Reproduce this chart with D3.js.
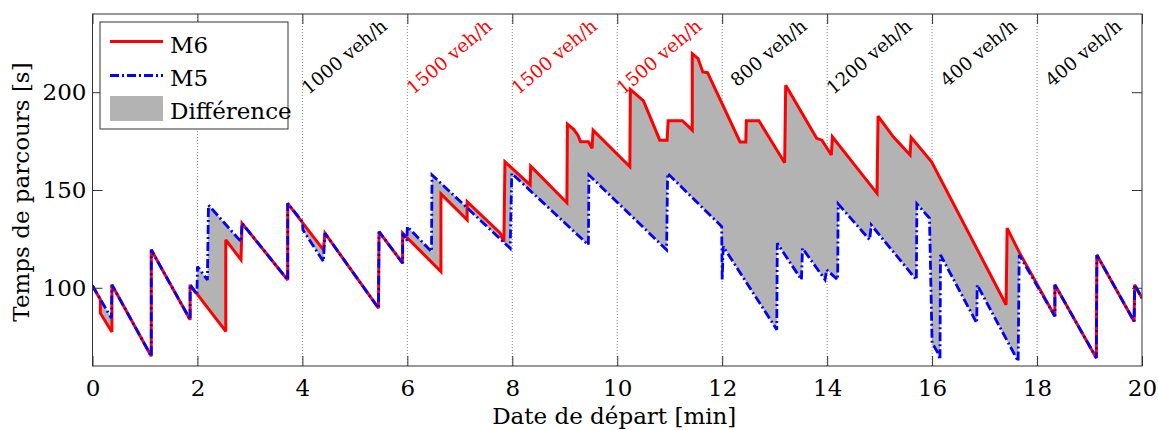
<!DOCTYPE html>
<html><head><meta charset="utf-8">
<script src="https://cdn.jsdelivr.net/npm/d3@7"></script>
<style>
body{margin:0;background:#fff}
svg{display:block}
text{font-family:"DejaVu Serif",serif}
</style>
</head><body>
<svg id="c" width="1158" height="430"></svg>
<script>
// ---- data ----
const xTicks = [0, 2, 4, 6, 8, 10, 12, 14, 16, 18, 20];
const yTicks = [100, 150, 200];
const gridTimes = [2, 4, 6, 8, 10, 12, 14, 16, 18];
const periodStarts = [0, 2, 4, 6, 8, 10, 12, 14, 16, 18];
const periodLabels = ["400 veh/h", "800 veh/h", "1000 veh/h", "1500 veh/h", "1500 veh/h", "1500 veh/h", "800 veh/h", "1200 veh/h", "400 veh/h", "400 veh/h"];
const periodColors = ["#000", "#000", "#000", "#f00", "#f00", "#f00", "#000", "#000", "#000", "#000"];
const seriesNames = ["M6", "M5", "Différence"];

// M6 (red, solid): [time in min, travel time in s]
const m6 = [
  [0,101],[0.15,94],[0.15,87],[0.37,77.4],[0.37,101.5],
  [1.12,65],[1.12,119.4],[1.86,83.7],[1.86,101.5],
  [2.54,77.7],[2.54,124.5],[2.83,114.3],[2.85,133],
  [3.72,104],[3.72,143.2],[4.4,119.4],[4.43,127.9],
  [5.45,89.6],[5.46,128.7],[5.91,112.6],[5.91,127.9],
  [6.64,108.3],[6.64,148],[7.14,134.7],[7.14,144],
  [7.77,127.9],[7.84,123.6],[7.86,164.4],
  [8.34,152.6],[8.35,162.2],[9.04,143.5],[9.05,183.7],
  [9.17,181],[9.25,178],[9.3,174.7],[9.45,174.7],[9.52,171.3],[9.54,180.6],
  [10.24,161.9],[10.25,201.4],[10.5,195.6],[10.81,175.5],[10.95,175.5],[10.97,185.4],
  [11.24,185.4],[11.43,180.6],[11.43,219.7],[11.54,217.2],[11.63,210.4],[11.72,210],
  [12.34,174.6],[12.45,174.6],[12.46,185.4],[12.7,185.4],
  [13.19,163.9],[13.21,203.6],[13.8,176.4],[13.9,175.5],[14.08,167.9],[14.1,177.2],
  [14.95,148.3],[14.97,187.8],[15.26,177.2],[15.35,174.6],[15.58,167.9],[15.6,176.9],
  [15.99,164.4],[17.41,91.3],[17.43,130.5],[17.67,117.7],
  [18.34,85.4],[18.34,101.5],[19.13,64.1],[19.14,116.8],
  [19.85,82.8],[19.86,101.5],[20,94.7]
];
// M5 (blue, dash-dot)
const m5 = [
  [0,101],[0.34,85.4],[0.36,84.5],[0.37,101.5],
  [1.12,65],[1.12,119.4],[1.86,83.7],[1.86,101.5],
  [1.99,96.5],[2.0,110.9],[2.19,104],[2.21,142.3],
  [2.83,123.6],[2.85,133],[3.72,104],[3.72,143.2],
  [4.0,133.8],[4.01,129.6],[4.4,113.4],[4.43,127.9],
  [5.45,89.6],[5.46,128.7],[5.91,112.6],[5.91,127.9],
  [5.99,124],[6.0,131.3],[6.46,118.5],[6.47,157.7],
  [7.96,120.2],[7.99,158.5],[9.45,121.9],[9.46,157.7],
  [10.94,119.4],[10.96,158.5],[11.99,131.3],[12.0,104.1],[12.02,121.1],
  [13.04,78.6],[13.05,122.8],[13.51,104.1],[13.53,120.2],
  [13.96,104.1],[13.99,109.2],[14.2,104.1],[14.21,142.9],
  [14.81,124.5],[14.84,132.1],[15.7,104.1],[15.71,142.9],
  [15.95,135.6],[16.0,71.8],[16.11,66.7],[16.15,63.3],[16.16,116.8],
  [16.85,82],[16.86,101.5],[17.64,62.4],[17.66,116.8],
  [18.34,85.4],[18.34,101.5],[19.13,64.1],[19.14,116.8],
  [19.85,82.8],[19.86,101.5],[20,94.7]
];

// ---- drawing ----
const svg = d3.select("#c");
const L = 92.5, R = 1142, T = 14, B = 366;
const x = d3.scaleLinear().domain([0, 20]).range([L, R]);
const y = d3.scaleLinear().domain([60, 240]).range([B, T]);
const frameCol = "#333";
const FS = 23;

svg.append("clipPath").attr("id", "pc").append("rect")
  .attr("x", L).attr("y", T).attr("width", R - L).attr("height", B - T);

// dotted period separators
svg.append("g").selectAll("line").data(gridTimes).join("line")
  .attr("x1", d => x(d)).attr("x2", d => x(d)).attr("y1", T).attr("y2", B)
  .attr("stroke", "#888").attr("stroke-width", 1).attr("stroke-dasharray", "1,2");

// period annotations
svg.append("g").selectAll("text").data(periodStarts).join("text")
  .attr("transform", (d) => `translate(${x(d) + 86},28) rotate(-40)`)
  .attr("text-anchor", "end")
  .attr("font-size", 18.5)
  .attr("fill", (d, i) => periodColors[i])
  .text((d, i) => periodLabels[i]);

const plot = svg.append("g").attr("clip-path", "url(#pc)");
const line = d3.line().x(d => x(d[0])).y(d => y(d[1]));

// difference fill: M6 forward, M5 backward
const poly = m6.concat(m5.slice().reverse());
plot.append("path").attr("d", line(poly) + "Z")
  .attr("fill", "#b3b3b3").attr("stroke", "none").attr("fill-rule", "nonzero");

plot.append("path").attr("d", line(m6))
  .attr("fill", "none").attr("stroke", "#ff0000").attr("stroke-width", 3)
  .attr("stroke-linejoin", "miter").attr("stroke-miterlimit", 3);
plot.append("path").attr("d", line(m5))
  .attr("fill", "none").attr("stroke", "#0000ff").attr("stroke-width", 2.8)
  .attr("stroke-dasharray", "9,3,2,3")
  .attr("stroke-linejoin", "miter").attr("stroke-miterlimit", 3);

// axes
const gx = svg.append("g").attr("transform", `translate(0,${B})`)
  .call(d3.axisBottom(x).tickValues(xTicks).tickSizeInner(-10).tickSizeOuter(0).tickPadding(14));
const gxt = svg.append("g").attr("transform", `translate(0,${T})`)
  .call(d3.axisTop(x).tickValues(xTicks).tickSizeInner(-10).tickSizeOuter(0).tickFormat(""));
const gy = svg.append("g").attr("transform", `translate(${L},0)`)
  .call(d3.axisLeft(y).tickValues(yTicks).tickSizeInner(-10).tickSizeOuter(0).tickPadding(6));
const gyr = svg.append("g").attr("transform", `translate(${R},0)`)
  .call(d3.axisRight(y).tickValues(yTicks).tickSizeInner(-10).tickSizeOuter(0).tickFormat(""));
[gx, gxt, gy, gyr].forEach(g => {
  g.select(".domain").remove();
  g.selectAll(".tick line").attr("stroke", frameCol);
  g.selectAll("text").attr("font-family", "DejaVu Serif").attr("font-size", FS).attr("fill", "#000");
});

svg.append("rect").attr("x", L).attr("y", T).attr("width", R - L).attr("height", B - T)
  .attr("fill", "none").attr("stroke", frameCol).attr("stroke-width", 1);

// axis titles
svg.append("text").attr("x", (L + R) / 2 - 3).attr("y", 424).attr("text-anchor", "middle")
  .attr("font-size", FS).text("Date de départ [min]");
svg.append("text").attr("transform", `translate(29,${(T + B) / 2 + 2}) rotate(-90)`)
  .attr("text-anchor", "middle").attr("font-size", FS).text("Temps de parcours [s]");

// legend
const lg = svg.append("g");
lg.append("rect").attr("x", 100).attr("y", 22).attr("width", 188).attr("height", 107)
  .attr("fill", "#fff").attr("stroke", frameCol).attr("stroke-width", 1);
lg.append("line").attr("x1", 110).attr("x2", 163).attr("y1", 41.5).attr("y2", 41.5)
  .attr("stroke", "#ff0000").attr("stroke-width", 3);
lg.append("line").attr("x1", 110).attr("x2", 163).attr("y1", 75.5).attr("y2", 75.5)
  .attr("stroke", "#0000ff").attr("stroke-width", 2.8).attr("stroke-dasharray", "9,3,2,3");
lg.append("rect").attr("x", 110).attr("y", 96).attr("width", 53).attr("height", 25)
  .attr("fill", "#b3b3b3");
lg.selectAll("text.lt").data(seriesNames).join("text").attr("class", "lt")
  .attr("x", 170).attr("y", (d, i) => [53, 86, 119][i])
  .attr("font-size", FS).text(d => d);
</script>
</body></html>
